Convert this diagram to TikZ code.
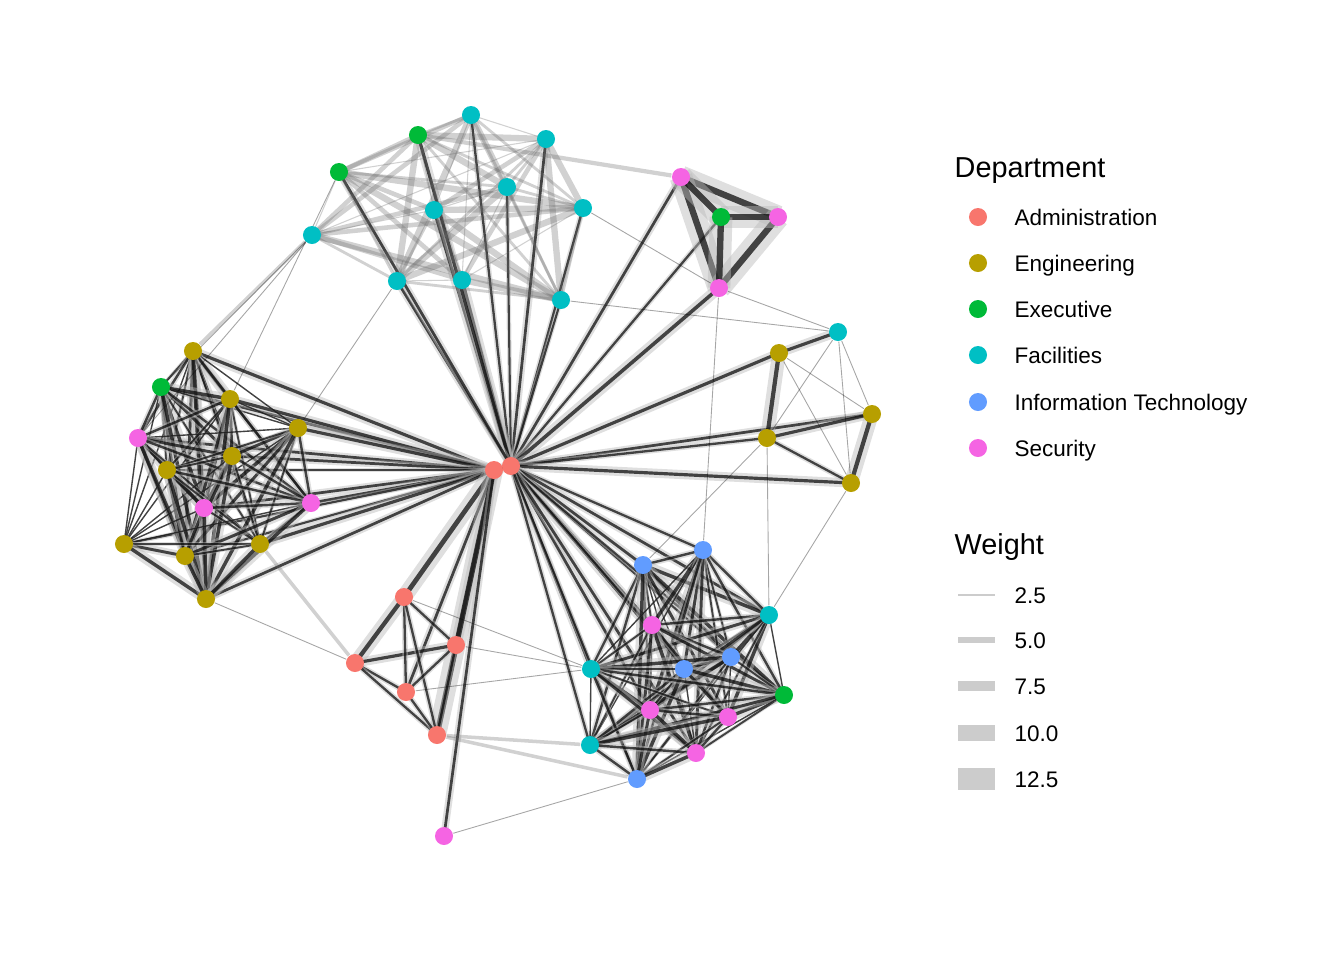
\documentclass[tikz,border=0pt]{standalone}
\usepackage{fontspec}
\setmainfont{Liberation Sans}
\usetikzlibrary{backgrounds, calc}
\definecolor{adm}{HTML}{F8766D}
\definecolor{eng}{HTML}{B79F00}
\definecolor{exe}{HTML}{00BA38}
\definecolor{fac}{HTML}{00BFC4}
\definecolor{itc}{HTML}{619CFF}
\definecolor{sec}{HTML}{F564E3}
\newcommand{\bond}[3]
{
	\draw[tie=#1] (#2.center) -- (#3.center)
}
\def\west{g1/1,e4/2,g2/3,s4/4,g3/5,g4/6,g5/7,s5/8,s6/9,g6/10,g7/11,g8/12,g9/13}
\def\southeast{i1/1,i2/2,f11/3,s7/4,i3/5,i4/6,f12/7,e5/8,s8/9,s9/10,s10/11,f13/12,i5/13}
\def\north{f1/1,f2/2,e1/3,e2/4,f3/5,f4/6,f5/7,f6/8,f7/9,f8/10,f9/11}

\begin{document}
\begin{tikzpicture}[x=0.01cm, y=-0.01cm,
	dot/.style={circle, fill=#1, inner sep=0pt, minimum size=0.18cm},
	tie/.style={draw=black, draw opacity=.7, line width=0.3*#1+0.3pt,
		preaction={draw=gray!55, draw opacity=.45, line width=1.3*#1}},
	soft/.style={draw=black!60, draw opacity=.3, line width=#1},
	faint/.style={draw=black, draw opacity=.35, line width=.25pt},
	key/.style={draw=gray!40, line width=#1},
	title/.style={anchor=base west, inner sep=0pt, font=\fontsize{8.2}{10}\selectfont},
	label/.style={anchor=base west, inner sep=0pt, font=\fontsize{6.4}{8}\selectfont}]
	\useasboundingbox (0,0) rectangle (1344,960);
	% people
	\foreach \n/\x/\y/\c in {a1/494/470/adm, a2/511/466/adm, a3/404/597/adm, a4/456/645/adm,
			a5/355/663/adm, a6/406/692/adm, a7/437/735/adm,
			g1/193/351/eng, g2/230/399/eng, g3/298/428/eng, g4/232/456/eng, g5/167/470/eng,
			g6/124/544/eng, g7/185/556/eng, g8/260/544/eng, g9/206/599/eng, g10/779/353/eng,
			g11/872/414/eng, g12/767/438/eng, g13/851/483/eng,
			e1/418/135/exe, e2/339/172/exe, e3/721/217/exe, e4/161/387/exe, e5/784/695/exe,
			f1/471/115/fac, f2/546/139/fac, f3/507/187/fac, f4/434/210/fac, f5/583/208/fac,
			f6/312/235/fac, f7/397/281/fac, f8/462/280/fac, f9/561/300/fac, f10/838/332/fac,
			f11/769/615/fac, f12/591/669/fac, f13/590/745/fac,
			i1/643/565/itc, i2/703/550/itc, i3/731/657/itc, i4/684/669/itc, i5/637/779/itc,
			s1/681/177/sec, s2/778/217/sec, s3/719/288/sec, s4/138/438/sec, s5/204/508/sec,
			s6/311/503/sec, s7/652/625/sec, s8/650/710/sec, s9/728/717/sec, s10/696/753/sec,
			s11/444/836/sec}
		\node[dot=\c] (\n) at (\x,\y) {};

	\begin{scope}[on background layer]
		% hub
		\bond{2pt}{a1}{a2};
		\foreach \t/\w in {f1/1.2, f2/1.6, f3/1, f4/2, f5/1.2, f7/1.6, f8/2.2, f9/1, e1/2,
				e2/1.6, s1/1.6, e3/1.2, s3/2.4, g10/2, g11/1.6, g12/1.2, g13/2,
				i1/1.6, i2/1.2, f11/1.6, s7/1.6, i3/1, i4/2, f12/1.6, e5/1, s8/1.6,
				s9/1, s10/1.6, f13/1.2, i5/1}
			\bond{\w pt}{a2}{\t};
		\foreach \t/\w in {g1/2, e4/1.6, g2/2, s4/1.6, g3/2, g4/1.6, g5/1, s5/1.6, s6/1.6,
				g6/1, g7/1, g8/2, g9/1.6, a3/3.5, a4/2.4, a6/1.6, a7/4, s11/1.6}
			\bond{\w pt}{a1}{\t};
		% west group
		\foreach \u/\i in \west
			\foreach \v/\j in \west {
				\ifnum\j>\i
					\pgfmathsetmacro{\w}{0.3+mod(\i*5+\j*3,5)*0.5}
					\bond{\w pt}{\u}{\v};
				\fi
			};
		% south-east group
		\foreach \u/\i in \southeast
			\foreach \v/\j in \southeast {
				\ifnum\j>\i
					\pgfmathsetmacro{\w}{0.3+mod(\i*3+\j*7,5)*0.5}
					\bond{\w pt}{\u}{\v};
				\fi
			};
		% north group
		\foreach \u/\i in \north
			\foreach \v/\j in \north {
				\ifnum\j>\i
					\pgfmathsetmacro{\w}{0.3+mod(\i*2+\j*5,4)*0.5}
					\draw[soft=\w pt] (\u.center) -- (\v.center);
				\fi
			};
		% north-east triangle
		\foreach \u/\v in {s1/s2, s1/s3, s2/s3, e3/s1, e3/s2, e3/s3}
			\bond{5pt}{\u}{\v};
		% east group
		\bond{2pt}{g10}{f10};
		\bond{3pt}{g10}{g12};
		\bond{3pt}{g11}{g13};
		\bond{2pt}{g12}{g11};
		\bond{1.2pt}{g12}{g13};
		\foreach \u/\v in {f10/g11, f10/g13, g10/g11, g10/g13, f10/g12}
			\draw[faint] (\u) -- (\v);
		% admin group
		\bond{3pt}{a3}{a5};
		\bond{2pt}{a5}{a4};
		\foreach \u/\v in {a3/a4, a3/a6, a3/a7, a5/a6, a5/a7, a6/a7, a4/a6, a4/a7}
			\bond{1.2pt}{\u}{\v};
		% long weak ties
		\draw[soft=1.2pt] (e1) -- (s1);
		\draw[soft=1pt] (f6) -- (g1);
		\draw[soft=1pt] (g8) -- (a5);
		\draw[soft=1pt] (a7) -- (i5);
		\draw[soft=1pt] (a7) -- (f13);
		\foreach \u/\v in {f6/e4, f6/s4, f9/f10, s3/f10, s3/i2, g12/f11, g13/f11, g12/i1,
				g9/a5, a3/f12, a4/f12, a6/f12, s11/i5, e2/g2, f7/g3, f5/s3}
			\draw[faint] (\u) -- (\v);
	\end{scope}

	% legend
	\node[title] (dept) at (954,177) {Department};
	\foreach \n/\y/\c/\t in {k1/217/adm/Administration, k2/263/eng/Engineering,
			k3/309/exe/Executive, k4/355/fac/Facilities,
			k5/402/itc/Information Technology, k6/448/sec/Security} {
		\node[dot=\c] (\n) at (978,\y) {};
		\node[label] (\n t) at (1014,\y+8) {\t};
	}
	\node[title] (wgt) at (954,554) {Weight};
	\foreach \n/\y/\w/\t in {w1/595/0.3/2.5, w2/640/1.7/5.0, w3/686/2.8/7.5,
			w4/733/4.3/10.0, w5/779/6/12.5} {
		\coordinate (\n a) at (958,\y);
		\coordinate (\n b) at (995,\y);
		\draw[key=\w pt] (\n a) -- (\n b);
		\node[label] (\n t) at (1014,\y+8) {\t};
	}
\end{tikzpicture}
\end{document}
